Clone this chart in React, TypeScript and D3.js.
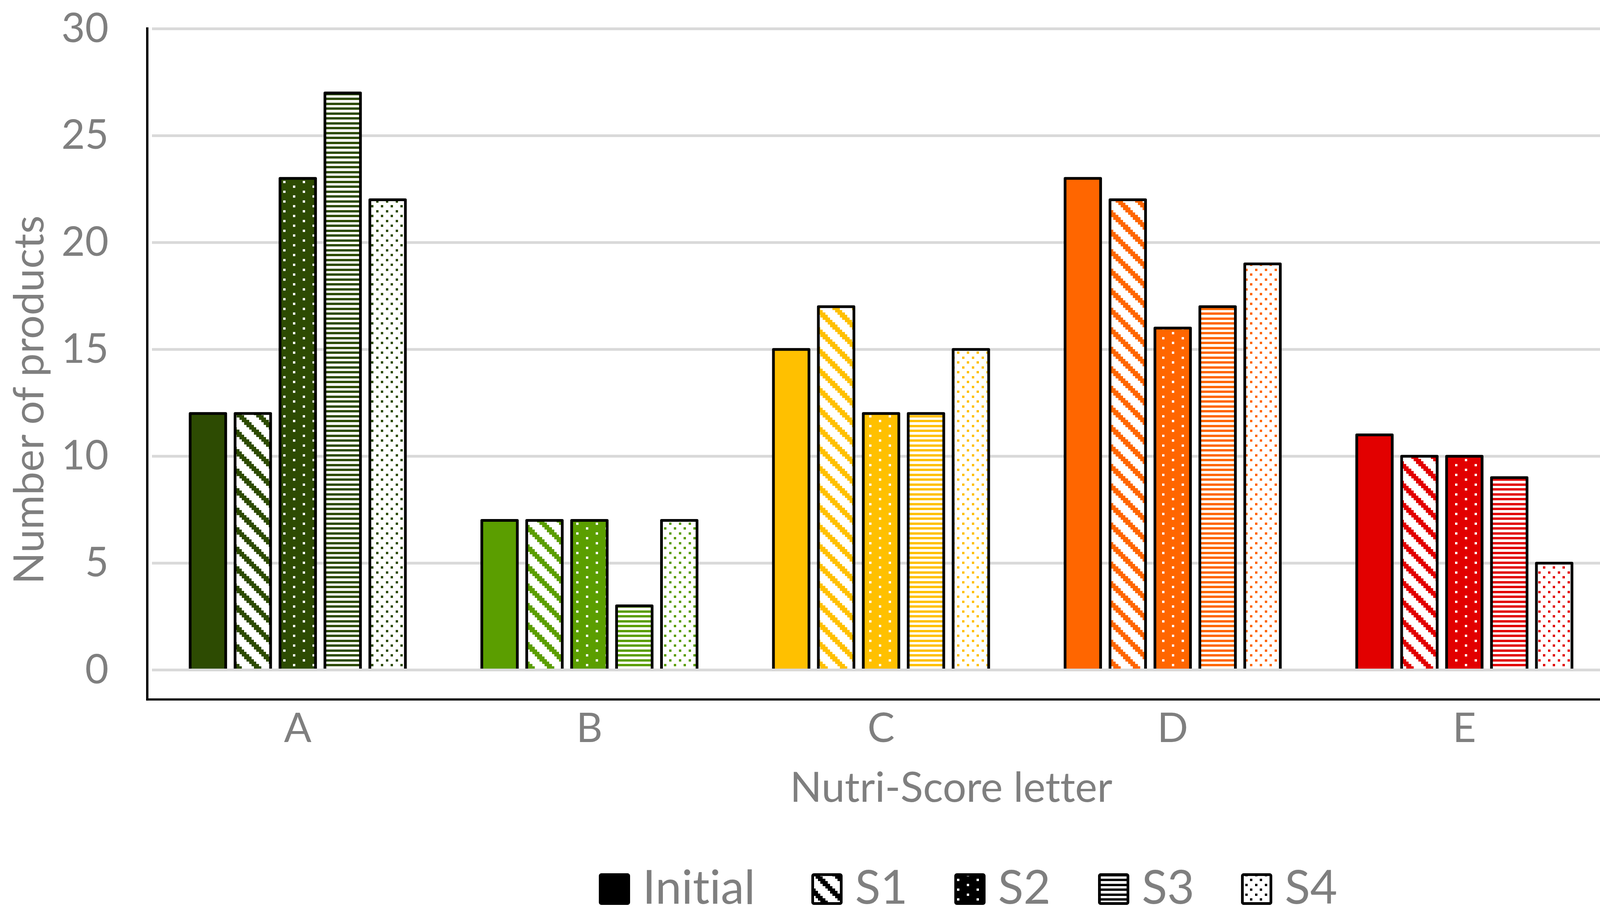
import * as d3 from 'd3';

const categories = ['A', 'B', 'C', 'D', 'E'];
const seriesNames = ['Initial', 'S1', 'S2', 'S3', 'S4'];
const initialValues = [12, 7, 15, 23, 11];
const s1Values = [12, 7, 17, 22, 10];
const s2Values = [23, 7, 12, 16, 10];
const s3Values = [27, 3, 12, 17, 9];
const s4Values = [22, 7, 15, 19, 5];
const categoryColors = ['#2D4B02', '#5B9E00', '#FFC000', '#FF6600', '#E20000'];
const yTicks = [0, 5, 10, 15, 20, 25, 30];

const seriesValues = [initialValues, s1Values, s2Values, s3Values, s4Values];
const fillKinds = ['solid', 'diag', 'dotsInv', 'horiz', 'dots'];

const W = 4234;
const H = 2348;
const FONT = "Lato, 'Open Sans', sans-serif";
const TEXT = '#7F7F7F';
const PX = 6.25; // one pattern pixel, 8x8 tile

const x0 = d3.scaleBand<string>().domain(categories).range([389, 4122]).paddingInner(0.262).paddingOuter(0.131);
const x1 = d3.scaleBand<string>().domain(seriesNames).range([0, x0.bandwidth()]).paddingInner(0.209).paddingOuter(0);
const y = d3.scaleLinear().domain([0, 30]).range([1715.5, 73.8]);

// legend item left edges (layout only)
const legendX = [1533, 2077, 2443, 2811, 3177];

const textStyle = { fontVariantLigatures: 'none' as const };

function pixels(kind: string): [number, number][] {
  const out: [number, number][] = [];
  if (kind === 'diag') {
    for (let r = 0; r < 8; r++) for (const c of [r - 1, r, r + 1]) out.push([(c + 8) % 8, r]);
  } else if (kind === 'dotsInv') {
    out.push([0, 0], [4, 2], [0, 4], [4, 6]);
  } else if (kind === 'dots') {
    out.push([0, 0], [4, 0], [2, 2], [6, 2], [0, 4], [4, 4], [2, 6], [6, 6]);
  }
  return out;
}

function PatternDef({ id, color, kind }: { id: string; color: string; kind: string }) {
  const tile = PX * 8;
  const bg = kind === 'dotsInv' ? color : '#FFFFFF';
  const fg = kind === 'dotsInv' ? '#FFFFFF' : color;
  return (
    <pattern id={id} patternUnits="userSpaceOnUse" width={tile} height={tile}>
      <rect x={0} y={0} width={tile} height={tile} fill={bg} />
      {kind === 'horiz'
        ? [0, 2, 4, 6].map((r) => (
            <rect key={r} x={0} y={r * PX} width={tile} height={PX} fill={fg} shapeRendering="crispEdges" />
          ))
        : pixels(kind).map(([c, r], i) => (
            <rect key={i} x={c * PX} y={r * PX} width={PX} height={PX} fill={fg} shapeRendering="crispEdges" />
          ))}
    </pattern>
  );
}

function fillFor(kind: string, color: string, id: string) {
  return kind === 'solid' ? color : `url(#${id})`;
}

export default function App() {
  const defs: JSX.Element[] = [];
  categories.forEach((_, ci) => {
    fillKinds.forEach((k, si) => {
      if (k !== 'solid') defs.push(<PatternDef key={`p-${ci}-${si}`} id={`p-${ci}-${si}`} color={categoryColors[ci]} kind={k} />);
    });
  });
  fillKinds.forEach((k, si) => {
    if (k !== 'solid') defs.push(<PatternDef key={`l-${si}`} id={`l-${si}`} color="#000000" kind={k} />);
  });

  return (
    <svg width={W} height={H} style={{ position: 'absolute', left: 0, top: 0, background: '#fff' }}>
      <defs>{defs}</defs>
      <rect x={0} y={0} width={W} height={H} fill="#fff" />

      {/* gridlines */}
      {yTicks.filter((t) => t !== 0).map((t) => (
        <line key={t} x1={389} x2={4122} y1={y(t)} y2={y(t)} stroke="#D9D9D9" strokeWidth={7} />
      ))}

      {/* bars */}
      {categories.map((cat, ci) => (
        <g key={cat}>
          {seriesNames.map((s, si) => {
            const v = seriesValues[si][ci];
            return (
              <rect
                key={s}
                x={(x0(cat) ?? 0) + (x1(s) ?? 0)}
                y={y(v)}
                width={x1.bandwidth()}
                height={y(0) - y(v)}
                fill={fillFor(fillKinds[si], categoryColors[ci], `p-${ci}-${si}`)}
                stroke="#000"
                strokeWidth={7}
                strokeLinejoin="round"
              />
            );
          })}
        </g>
      ))}

      {/* zero line (category axis) */}
      <line x1={389} x2={4122} y1={y(0)} y2={y(0)} stroke="#D9D9D9" strokeWidth={7} />

      {/* plot border left & bottom */}
      <line x1={377} x2={377} y1={70} y2={1793.5} stroke="#000" strokeWidth={6} />
      <line x1={374} x2={4214} y1={1791} y2={1791} stroke="#000" strokeWidth={5.5} />

      {/* y tick labels */}
      {yTicks.map((t) => (
        <text key={t} x={278} y={y(t) + 34} textAnchor="end" fontFamily={FONT} fontSize={104} fill={TEXT} style={textStyle}>
          {t}
        </text>
      ))}

      {/* category labels */}
      {categories.map((cat) => (
        <text key={cat} x={(x0(cat) ?? 0) + x0.bandwidth() / 2} y={1900} textAnchor="middle" fontFamily={FONT} fontSize={104} fill={TEXT} style={textStyle}>
          {cat}
        </text>
      ))}

      {/* axis titles */}
      <text x={2435} y={2053} textAnchor="middle" fontFamily={FONT} fontSize={107} fill={TEXT} style={textStyle}>
        Nutri-Score letter
      </text>
      <text transform="translate(111,1024) rotate(-90)" textAnchor="middle" fontFamily={FONT} fontSize={107} fill={TEXT} style={textStyle}>
        Number of products
      </text>

      {/* legend */}
      {seriesNames.map((s, si) => (
        <g key={s}>
          <rect
            x={legendX[si] + 3.5}
            y={2236 + 3.5}
            width={73}
            height={74}
            rx={3}
            fill={fillFor(fillKinds[si], '#000000', `l-${si}`)}
            stroke="#000"
            strokeWidth={7}
            strokeLinejoin="round"
          />
          <text x={legendX[si] + 112} y={2314} fontFamily={FONT} fontSize={120} fill={TEXT} style={textStyle}>
            {s}
          </text>
        </g>
      ))}
    </svg>
  );
}
